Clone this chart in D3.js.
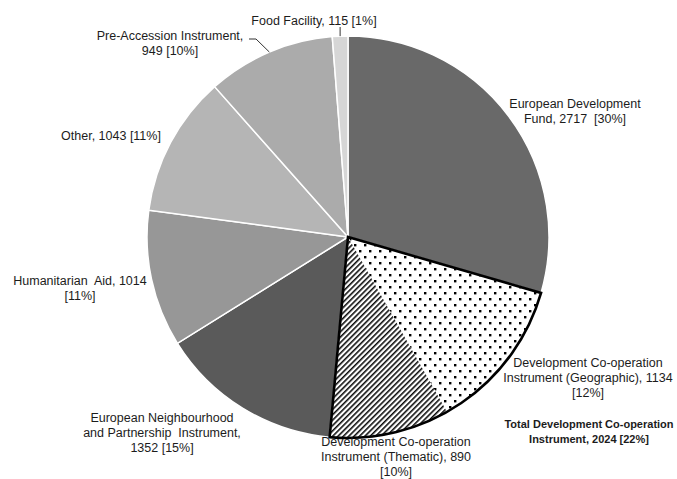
<!DOCTYPE html>
<meta charset="utf-8">
<head>
    <script src="https://d3js.org/d3.v7.min.js"></script>
    <style>
    body { margin: 0; background: #fff; }
    text { font-family: Arial, "Liberation Sans", sans-serif; font-size: 12.5px; fill: #1c1c1c; }
    .total { font-weight: bold; font-size: 11px; }
    </style>
</head>
<body>
    <script>
    // data (EUR million, share of total)
    var categories = ["European Development Fund",
                      "Development Co-operation Instrument (Geographic)",
                      "Development Co-operation Instrument (Thematic)",
                      "European Neighbourhood and Partnership Instrument",
                      "Humanitarian Aid", "Other",
                      "Pre-Accession Instrument", "Food Facility"];
    var values = [2717, 1134, 890, 1352, 1014, 1043, 949, 115];
    var labelLines = [
        ["European Development", "Fund, 2717  [30%]"],
        ["Development Co-operation", "Instrument (Geographic), 1134", "[12%]"],
        ["Development Co-operation", "Instrument (Thematic), 890", "[10%]"],
        ["European Neighbourhood", "and Partnership  Instrument,", "1352 [15%]"],
        ["Humanitarian  Aid, 1014", "[11%]"],
        ["Other, 1043 [11%]"],
        ["Pre-Accession Instrument,", "949 [10%]"],
        ["Food Facility, 115 [1%]"]
    ];
    var totalLines = ["Total Development Co-operation", "Instrument, 2024 [22%]"];

    // layout
    var width = 677, height = 479,
        cx = 348, cy = 237, radius = 201, lineH = 15.2;
    var fills = ["#696969", "url(#dots)", "url(#hatch)", "#5a5a5a",
                 "#979797", "#b5b5b5", "#ababab", "#d6d6d6"];
    // label centres (first line), relative to the page
    var labelPos = [[575, 103], [588, 362], [396, 441], [162, 417],
                    [80, 280], [111, 135], [170, 35], [314, 20]];
    var totalPos = [589, 423];

    var svg = d3.select("body").append("svg")
        .attr("width", width)
        .attr("height", height);

    // fill patterns for the two DCI slices
    var defs = svg.append("defs");
    var dots = defs.append("pattern")
        .attr("id", "dots")
        .attr("width", 10).attr("height", 12)
        .attr("patternUnits", "userSpaceOnUse");
    dots.append("rect").attr("width", 10).attr("height", 12).attr("fill", "#fff");
    dots.append("rect").attr("x", 1).attr("y", 1).attr("width", 2.4).attr("height", 2.4).attr("fill", "#000");
    dots.append("rect").attr("x", 6).attr("y", 7).attr("width", 2.4).attr("height", 2.4).attr("fill", "#000");

    var hatch = defs.append("pattern")
        .attr("id", "hatch")
        .attr("width", 3.8).attr("height", 3.8)
        .attr("patternUnits", "userSpaceOnUse")
        .attr("patternTransform", "rotate(45)");
    hatch.append("rect").attr("width", 3.8).attr("height", 3.8).attr("fill", "#fff");
    hatch.append("line")
        .attr("x1", 0.8).attr("y1", 0).attr("x2", 0.8).attr("y2", 3.8)
        .attr("stroke", "#000").attr("stroke-width", 1.5);

    var pie = d3.pie().sort(null).value(function(d) { return d; });
    var arcs = pie(values);
    var arc = d3.arc().innerRadius(0).outerRadius(radius);

    var g = svg.append("g")
        .attr("transform", "translate(" + cx + "," + cy + ")");

    g.selectAll("path.slice")
        .data(arcs)
        .enter().append("path")
        .attr("class", "slice")
        .attr("d", arc)
        .attr("fill", function(d, i) { return fills[i]; })
        .attr("stroke", function(d, i) { return (i == 1 || i == 2) ? "none" : "#fff"; })
        .attr("stroke-width", 1.5);

    // thick outline round the combined DCI slices
    g.append("path")
        .attr("d", arc({ startAngle: arcs[1].startAngle, endAngle: arcs[2].endAngle }))
        .attr("fill", "none")
        .attr("stroke", "#000")
        .attr("stroke-width", 2.6)
        .attr("stroke-linejoin", "miter");

    // point on the rim in the middle of a slice (page coords)
    function rimPoint(d) {
        var a = (d.startAngle + d.endAngle) / 2;
        return [cx + radius * Math.sin(a), cy - radius * Math.cos(a)];
    }

    // leader lines
    var pPre = rimPoint(arcs[6]);
    svg.append("polyline")
        .attr("points", [[249, 39], [256, 39], pPre].join(" "))
        .attr("fill", "none").attr("stroke", "#333").attr("stroke-width", 1);
    var pFood = rimPoint(arcs[7]);
    svg.append("line")
        .attr("x1", pFood[0]).attr("y1", 27)
        .attr("x2", pFood[0]).attr("y2", pFood[1])
        .attr("stroke", "#333").attr("stroke-width", 1);

    // labels
    function addLabel(lines, pos, cls) {
        var t = svg.append("text")
            .attr("text-anchor", "middle")
            .attr("class", cls || null)
            .style("white-space", "pre");
        lines.forEach(function(s, k) {
            t.append("tspan")
                .attr("x", pos[0])
                .attr("y", pos[1] + 4.5 + k * lineH)
                .text(s);
        });
        return t;
    }
    labelLines.forEach(function(lines, i) { addLabel(lines, labelPos[i]); });
    addLabel(totalLines, totalPos, "total");
    </script>
</body>
</html>
